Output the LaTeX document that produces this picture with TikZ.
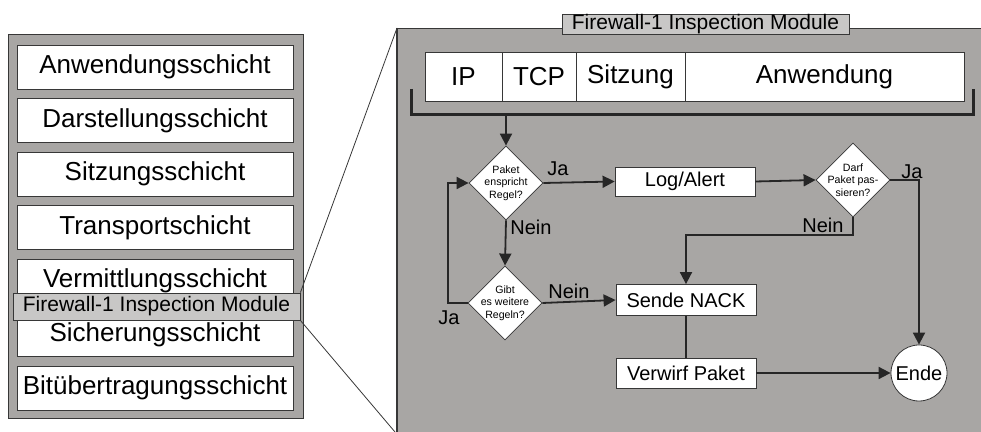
\documentclass[tikz,border=0pt]{standalone}
\usepackage{fontspec}
\setmainfont{Liberation Sans}
\usepackage{tikz}
\usetikzlibrary{shapes.geometric,arrows.meta}

\definecolor{panelgray}{RGB}{168,166,164}
\definecolor{labelgray}{RGB}{200,199,198}
\definecolor{linegray}{RGB}{55,55,55}

\tikzset{
  layer/.style={draw=linegray, fill=white, minimum width=138pt, minimum height=22pt,
    inner sep=0pt, font=\fontsize{13}{15}\selectfont},
  modlabel/.style={draw=linegray, fill=labelgray, minimum width=143.5pt,
    inner sep=0pt, font=\fontsize{10.5}{12}\selectfont},
  field/.style={draw=linegray, fill=white, minimum height=24.5pt, inner sep=0pt,
    font=\fontsize{13}{15}\selectfont},
  proc/.style={draw=linegray, fill=white, minimum width=70pt, minimum height=15pt,
    inner sep=0pt, font=\fontsize{10}{12}\selectfont},
  decision/.style={diamond, draw=linegray, fill=white, minimum width=37pt,
    minimum height=37pt, inner sep=-2.5pt, align=center,
    font=\fontsize{5.3}{6.3}\selectfont},
  answer/.style={inner sep=0pt, font=\fontsize{10}{12}\selectfont},
  flow/.style={line width=0.9pt, draw=black!85},
  >={Triangle[length=6pt,width=6pt]}
}

\begin{document}
\begin{tikzpicture}[x=0.5pt,y=-0.5pt]
\useasboundingbox (0,0) rectangle (981,432);

    % OSI stack
    \draw[draw=linegray, fill=panelgray] (8,34) rectangle (303,418);
    \foreach \name [count=\i] in {Anwendungsschicht, Darstellungsschicht, Sitzungsschicht,
        Transportschicht, Vermittlungsschicht, Sicherungsschicht, Bitübertragungsschicht}
        \node[layer] (l\i) at (155,{67+53.5*(\i-1)}) {\name};
    \node[modlabel, minimum height=13.5pt] (fwl) at (156.5,306.5) {Firewall-1 Inspection Module};

    % enlarged module
    \fill[panelgray] (397,28) rectangle (981,432);
    \draw[linegray] (981,28) -- (397,28);
    \draw[linegray, line width=1pt] (397,28) -- (397,432);
    \coordinate (zt) at (397,28);
    \coordinate (zb) at (395,432);
    \draw[linegray] (fwl.north east) -- (zt);
    \draw[linegray] (fwl.south east) -- (zb);
    \node[modlabel, minimum height=10pt] (fwr) at (705.5,24) {Firewall-1 Inspection Module};

    % packet fields
    \node[field, minimum width=38.5pt] (ip) at (463.5,76.5) {IP};
    \node[field, minimum width=37pt] (tcp) at (539,76.5) {TCP};
    \node[field, minimum width=54.5pt] (sitz) at (630.5,76.5) {Sitzung};
    \node[field, minimum width=139.5pt] (anw) at (824.5,76.5) {Anwendung};
    \draw[line width=1.5pt, black!85] (411,89) -- (411,115) -- (973,115) -- (973,89);
    \coordinate (brk) at (506,115);

    % rule check
    \node[decision] (d1) at (506,183) {Paket\\enspricht\\Regel?};
    \node[proc, minimum height=14.5pt] (log) at (685,181.5) {Log/Alert};
    \node[decision] (d2) at (853,180) {Darf\\Paket pas-\\sieren?};
    \node[decision] (d3) at (505,303) {Gibt\\es weitere\\Regeln?};
    \node[proc, minimum height=15.5pt] (nack) at (686,300) {Sende NACK};
    \node[proc] (drop) at (686,373) {Verwirf Paket};
    \node[circle, draw=linegray, fill=white, minimum size=28pt, inner sep=0pt,
        font=\fontsize{10}{12}\selectfont] (ende) at (919,373) {Ende};

    \draw[flow,->] (brk) -- (d1.north);
    \draw[flow,->] (d1.east) -- (log.west);
    \draw[flow,->] (log.east) -- (d2.west);
    \draw[flow,->] (d2.east) -| (ende.north);
    \draw[flow,->] (d2.south) -- ++(0,18) -| (nack.north);
    \draw[flow,->] (d1.south) -- (d3.north);
    \draw[flow,->] (d3.east) -- (nack.west);
    \draw[flow,->] (d3.west) -- ++(-20,0) |- (d1.west);
    \draw[flow] (nack) -- (drop);
    \draw[flow,->] (drop) -- (ende);

    \node[answer] (ja1) at (558,169) {Ja};
    \node[answer] (nein1) at (531,227) {Nein};
    \node[answer] (nein3) at (569,291) {Nein};
    \node[answer] (ja3) at (449,318) {Ja};
    \node[answer] (ja2) at (912,172) {Ja};
    \node[answer] (nein2) at (823,225) {Nein};

\end{tikzpicture}
\end{document}
